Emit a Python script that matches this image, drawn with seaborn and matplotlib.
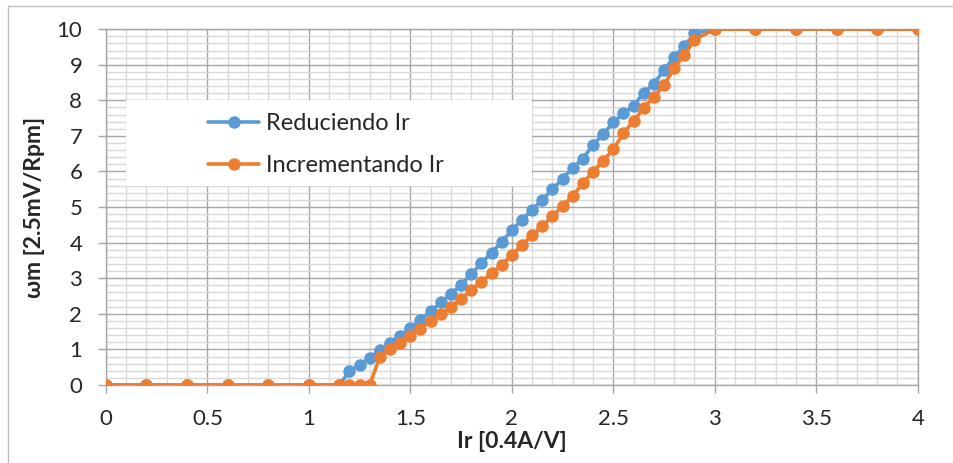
import matplotlib
matplotlib.use('Agg')
import matplotlib.pyplot as plt
import matplotlib.ticker as ticker
from matplotlib.patches import Rectangle
from matplotlib.lines import Line2D
import seaborn as sns
import pandas as pd

# Datos
ir_reduciendo = [0, 0.2, 0.4, 0.6, 0.8, 1.0, 1.15, 1.2, 1.25, 1.3, 1.35, 1.4, 1.45,
                 1.5, 1.55, 1.6, 1.65, 1.7, 1.75, 1.8, 1.85, 1.9, 1.95, 2.0, 2.05,
                 2.1, 2.15, 2.2, 2.25, 2.3, 2.35, 2.4, 2.45, 2.5, 2.55, 2.6, 2.65,
                 2.7, 2.75, 2.8, 2.85, 2.9, 3.0, 3.2, 3.4, 3.6, 3.8, 4.0]
wm_reduciendo = [0, 0, 0, 0, 0, 0, 0, 0.38, 0.57, 0.77, 0.98, 1.19, 1.39,
                 1.6, 1.83, 2.07, 2.32, 2.56, 2.81, 3.12, 3.42, 3.72, 4.02, 4.35, 4.65,
                 4.92, 5.21, 5.5, 5.8, 6.1, 6.36, 6.75, 7.05, 7.38, 7.63, 7.85, 8.22,
                 8.47, 8.85, 9.22, 9.53, 9.88, 10, 10, 10, 10, 10, 10]

ir_incrementando = [0, 0.2, 0.4, 0.6, 0.8, 1.0, 1.15, 1.2, 1.25, 1.3, 1.35, 1.4, 1.45,
                    1.5, 1.55, 1.6, 1.65, 1.7, 1.75, 1.8, 1.85, 1.9, 1.95, 2.0, 2.05,
                    2.1, 2.15, 2.2, 2.25, 2.3, 2.35, 2.4, 2.45, 2.5, 2.55, 2.6, 2.65,
                    2.7, 2.75, 2.8, 2.85, 2.9, 3.0, 3.2, 3.4, 3.6, 3.8, 4.0]
wm_incrementando = [0, 0, 0, 0, 0, 0, 0, 0, 0, 0, 0.8, 1.0, 1.18,
                    1.37, 1.58, 1.8, 1.99, 2.2, 2.42, 2.66, 2.9, 3.14, 3.38, 3.65, 3.93,
                    4.21, 4.47, 4.75, 5.03, 5.31, 5.68, 5.99, 6.3, 6.62, 7.08, 7.42, 7.79,
                    8.1, 8.43, 8.91, 9.27, 9.7, 10, 10, 10, 10, 10, 10]

series = ['Reduciendo Ir', 'Incrementando Ir']
colores = ['#5B9BD5', '#ED7D31']

df = pd.concat([
    pd.DataFrame({'Ir': ir_reduciendo, 'wm': wm_reduciendo, 'serie': series[0]}),
    pd.DataFrame({'Ir': ir_incrementando, 'wm': wm_incrementando, 'serie': series[1]}),
], ignore_index=True)

sns.set_style('white')
plt.rcParams['font.family'] = ['Lato', 'DejaVu Sans']

fig = plt.figure(figsize=(9.54, 4.63), dpi=100)
ax = fig.add_axes([0.111, 0.1685, 0.851, 0.7685])

sns.lineplot(
    data=df, x='Ir', y='wm', hue='serie', hue_order=series,
    palette=colores, marker='o', markersize=9, markeredgewidth=0,
    linewidth=2.6, legend=False, sort=False, ax=ax, zorder=3
)

ax.set_xlim(0, 4)
ax.set_ylim(0, 10)
ax.xaxis.set_major_locator(ticker.MultipleLocator(0.5))
ax.xaxis.set_minor_locator(ticker.MultipleLocator(0.1))
ax.yaxis.set_major_locator(ticker.MultipleLocator(1))
ax.yaxis.set_minor_locator(ticker.MultipleLocator(0.2))
ax.xaxis.set_major_formatter(ticker.FormatStrFormatter('%g'))

ax.set_axisbelow(True)
ax.grid(which='major', color='#a6a6a6', linewidth=1)
ax.grid(which='minor', color='#d9d9d9', linewidth=1)
for s in ax.spines.values():
    s.set_color('#a6a6a6')
    s.set_linewidth(1)

ax.tick_params(which='major', direction='out', length=6, width=1, color='#a6a6a6',
               labelsize=16, pad=11, left=True, bottom=True)
ax.tick_params(which='minor', length=0)

ax.set_xlabel('Ir [0.4A/V]', fontsize=16.5, fontweight='bold')
ax.set_ylabel('ωm [2.5mV/Rpm]', fontsize=16.5, fontweight='bold')
ax.xaxis.set_label_coords(0.5, -0.128)
ax.yaxis.set_label_coords(-0.075, 0.5)

# recuadro blanco de la leyenda
ax.add_patch(Rectangle((0.1, 5.6), 2.0, 2.4, facecolor='white', edgecolor='none', zorder=2))
handles = [Line2D([], [], color=c, marker='o', markersize=9, markeredgewidth=0, linewidth=2.6)
           for c in colores]
ax.legend(handles, series, loc='upper left', bbox_to_anchor=(0.126, 0.765),
          frameon=False, fontsize=17, handlelength=2.15, handletextpad=0.3,
          labelspacing=0.9, borderaxespad=0, borderpad=0)

# borde del area del grafico
fig.add_artist(Line2D([0.0084, 0.0084], [0.0, 0.987], color='#bfbfbf', linewidth=1))
fig.add_artist(Line2D([0.0084, 1.0], [0.987, 0.987], color='#bfbfbf', linewidth=1))

plt.savefig('out.png', dpi=100)
plt.close()
